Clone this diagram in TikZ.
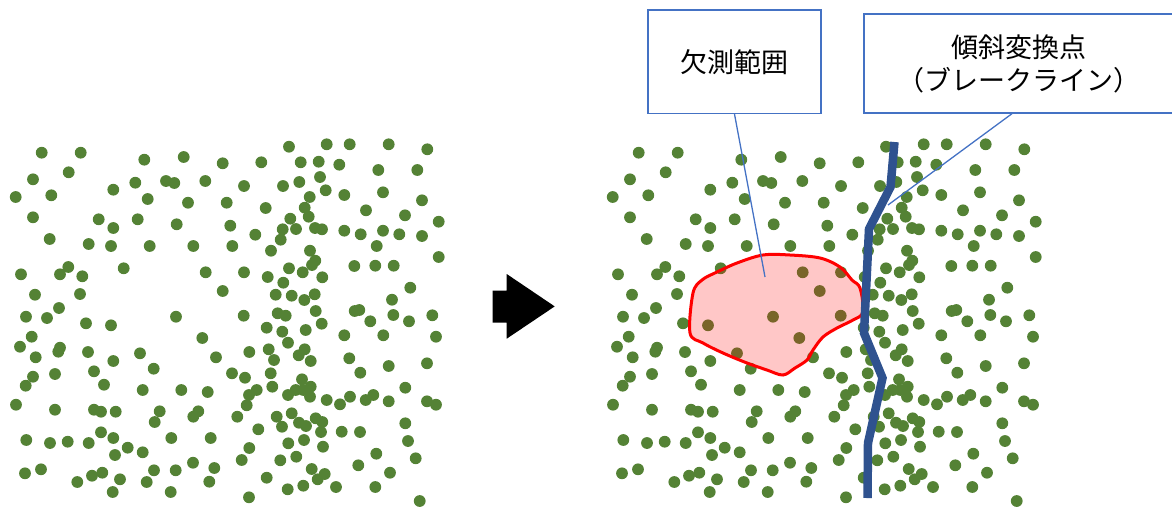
\documentclass[tikz,border=0pt]{standalone}
\usepackage{fontspec}
\newfontfamily\jpfont{Noto Sans CJK JP}
\definecolor{dotgreen}{RGB}{84,130,53}
\definecolor{boxblue}{RGB}{68,114,196}
\definecolor{linenavy}{RGB}{47,82,143}
% dot positions of one field (pixels, y downwards)
\newcommand{\dotfield}{41.7/152.7, 80.7/152.7, 144.3/159.7, 183.7/157, 33/179.3, 68.7/172.3, 113.3/189.7, 135.3/182.7, 166/181, 174.3/183, 205.3/181, 15.7/197, 51.3/195.3, 147.7/199, 188/202.7, 33/217.3, 98.7/219.3, 113.3/228, 137.7/219.3, 176.7/224.3, 49.7/239, 88.7/244, 111/246, 149.7/246, 193.3/246, 68.3/267, 21/274.3, 60/274.3, 82.3/276.3, 123.7/268.3, 205.7/272.3, 35/294.7, 80/294, 59/308,
289/146.7, 326.7/144.3, 349.7/144.3, 388.7/144.3, 427.3/149.3, 222.7/163.3, 261.3/162.3, 300.7/162.3, 318.7/161.7, 339.3/164.7, 378.3/170, 417.3/170, 244/186, 283/186, 299.3/182, 320/177, 325.7/190.3, 344.3/195, 383/192.3, 422/200.3, 226.7/202.7, 265.7/208, 309.7/197, 304.7/207.7, 308.7/216.7, 366/210.3, 405/215.3, 438.7/221.7, 230.3/225.7, 255.3/234.7, 290.3/218.7, 282.7/229.3, 296/229, 315/228, 322/229.3, 344.3/230.7, 360.7/234.3, 383/230.7, 399.3/234.3, 422/236, 232.3/246, 280.7/239.7, 271/250.7, 376.7/246, 310/250.7, 315.3/260.7, 312/265, 438.7/257, 244/272.3, 267.7/277, 289/268.3, 302.7/272.3, 322.3/277.3, 354.3/266, 375.3/265.7, 393.7/265.7, 283.3/282.7, 275.7/294.7, 291.7/295.7, 304.3/300, 314.7/294.3, 410.3/287.7, 392/299.7, 222.7/291,
26/316.7, 47/318, 86/323.3, 111/325.3, 176/316.7, 31.7/336.7, 20/346.7, 60/347.7, 58.3/351.7, 35.7/357.3, 88/352, 113.3/361, 140/353.3, 202.3/338, 216/357.3, 153.7/368.7, 33/376.7, 25.7/385.7, 55/374, 94/371.3, 104/384.7, 142.7/390, 181.3/390, 207.7/392, 16/404.7, 55/409.7, 94/409.7, 101/411.7, 115.7/411.7, 159.7/411.3, 154.7/422, 198.3/411.3, 193.3/416.7, 26.3/440, 50/443, 67.7/441.7, 88.7/443, 101/432.3, 113.3/438, 127.7/447.7, 115/455, 142.7/452.3, 171.3/438, 210.7/438, 25/473.3, 41/469.3, 77.3/482, 92/475.7, 102.3/472.7, 120/479.3, 112.7/492, 154/470.3, 146.7/482, 175.7/470.3, 193/462.7, 214.3/468, 209.3/481.7, 170.7/492,
243.7/315.7, 277.7/313.3, 285.7/315.7, 315.7/311, 354.7/311, 359.3/310, 393.3/315, 409/321.3, 432.3/315.3, 370.3/321.3, 321.7/323.7, 266.7/327.7, 282.3/331.7, 305.7/330, 344.3/335.3, 383.3/335.3, 436/336.7, 249.3/352, 268.7/349.3, 288/342.7, 274/360, 298.7/355.3, 304.7/349.3, 310.7/361, 349.3/358.3, 388.7/366, 427/363.3, 232/373.3, 245/377.7, 270.7/373.3, 272.3/386.7, 360.3/372.7, 302/379.3, 249/395, 256.7/390, 246.7/405.3, 288/395, 295.7/390, 303.3/390, 310.7/386.7, 310/396.7, 326.7/400, 340/404.3, 350/396.7, 365.7/400, 373.3/395, 388.7/401.3, 405.3/387.7, 427/401.3, 436/404.7, 237.3/416.7, 276.7/416.7, 291.7/413.3, 299/422.7, 306/426, 282/426.7, 315.7/418.3, 322.3/422, 321/432, 341.7/431.7, 360/432, 405.3/423.3, 258.3/429.3, 408/441, 249.3/448, 288.3/443.3, 304/440, 323/446.7, 241.7/460, 280.3/460.3, 296.3/456.7, 376.3/453.7, 415.7/458.3, 311.7/469, 324.7/474, 317.7/479.3, 358.3/465.3, 390/472.7, 266.7/477.7, 287.7/489.3, 303.3/485.7, 336/487, 375.3/487, 249/497.3, 419.7/501}
\tikzset{
  sample/.style={fill=dotgreen},
  callout/.style={draw=boxblue, line width=1.3pt, fill=white, inner sep=0pt,
    align=center, font=\jpfont\fontsize{27}{33}\selectfont},
  calloutline/.style={draw=boxblue, line width=1.3pt},
  gaparea/.style={draw=red, line width=3pt, fill=red, fill opacity=0.22},
  breakline/.style={draw=linenavy, line width=8.5pt},
}
\begin{document}
\begin{tikzpicture}[x=1pt,y=-1pt]
  \useasboundingbox (0,0) rectangle (1172,507);
  % both fields, the right one shifted
  \foreach \sx in {0,597} {
    \foreach \px/\py in \dotfield {
      \fill[sample] (\px+\sx,\py) circle (5.9pt);
    }
  }
  % arrow
  \fill (492.7,290.7) -- (506.7,290.7) -- (506.7,274) -- (554.7,306.4)
    -- (506.7,338.7) -- (506.7,322.7) -- (492.7,322.7) -- cycle;
  % missing area
  \path[gaparea] plot[smooth cycle, tension=0.55] coordinates {
    (690,333) (693,293) (702,280) (717,272) (737,263) (763,255) (790,255)
    (820,258) (840,267) (852,280) (860,288) (863,312) (853,320) (837,328)
    (823,337) (813,350) (807,360) (795,368) (783,375) (767,370) (747,363)
    (723,353) (703,343)};
  % break line
  \draw[breakline] (894.5,142) -- (890.5,187) -- (869,229) -- (864,333)
    -- (882.5,378) -- (868,443) -- (867.5,498);
  % callouts
  \node[callout, minimum width=173pt, minimum height=103.5pt] (gap) at (734.5,61.75) {欠測範囲};
  \node[callout, minimum width=310pt, minimum height=99pt] (brk) at (1019,63.5) {傾斜変換点\\（ブレークライン）};
  \coordinate (gaptip) at (765,277);
  \coordinate (brktip) at (888,205);
  \draw[calloutline] (gap.south) -- (gaptip);
  \draw[calloutline] ([xshift=-7pt]brk.south) -- (brktip);
\end{tikzpicture}
\end{document}
